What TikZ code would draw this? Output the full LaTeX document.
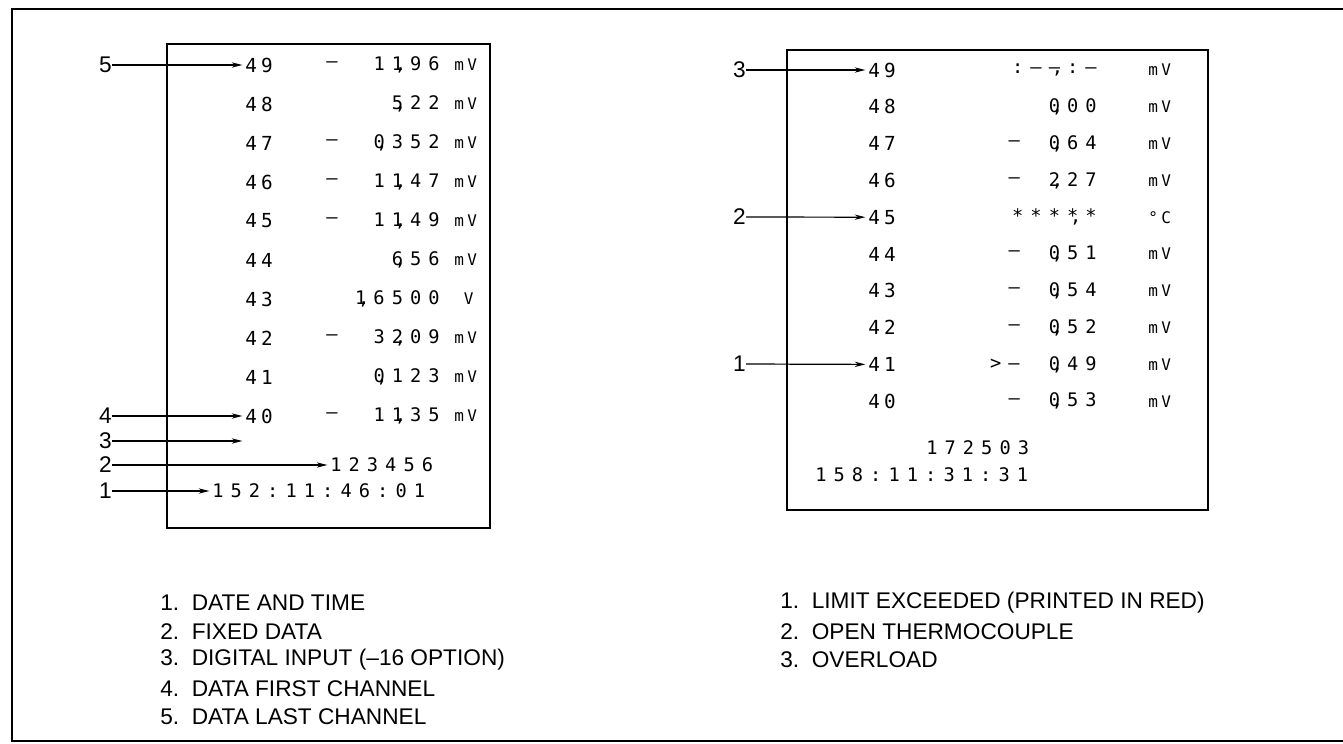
\documentclass[tikz,border=0pt]{standalone}
\usepackage{fontspec}
\setmainfont{Liberation Sans}
\newfontfamily\prtfont[LetterSpace=38]{DejaVu Sans Mono}
\newfontfamily\chfont[LetterSpace=22]{DejaVu Sans Mono}
\newcommand\dcomma{\makebox[0pt]{\kern-4pt,}\kern.38em}
\usetikzlibrary{arrows.meta}
\begin{document}
\begin{tikzpicture}[x=0.75pt,y=-0.75pt,
	arrow/.style={-{Stealth[length=8pt,width=4pt]},line width=0.9pt,shorten >=2pt},
	lbl/.style={font=\fontsize{17}{17}\selectfont,inner sep=0pt,anchor=east},
	leg/.style={font=\fontsize{17}{17}\selectfont,inner sep=0pt,anchor=west},
	chan/.style={font=\chfont\fontsize{14.5}{14.5}\selectfont,inner sep=0pt,anchor=west},
	sgn/.style={font=\prtfont\fontsize{14}{14}\selectfont,inner sep=0pt,anchor=east},
	val/.style={font=\prtfont\fontsize{14}{14}\selectfont,inner sep=0pt,anchor=east},
	unit/.style={font=\chfont\fontsize{12}{12}\selectfont,inner sep=0pt,anchor=west},
	prt/.style={font=\prtfont\fontsize{14}{14}\selectfont,inner sep=0pt,anchor=west}]
	\useasboundingbox (0,0) rectangle (1343,743);
	\draw[line width=1.1pt] (1343,9)--(12,9)--(12,741)--(1343,741);
	\draw[line width=1.5pt] (167,44) rectangle (490,528) (787,50) rectangle (1208,510);
	% left printout
	\foreach \kenh/\dau/\giatri/\donvi [count=\i from 0] in {49/–/11\dcomma96/mV,48//5\dcomma22/mV,47/–/0\dcomma352/mV,46/–/11\dcomma47/mV,45/–/11\dcomma49/mV,44//6\dcomma56/mV,43//1\dcomma6500/\phantom{m}V,42/–/32\dcomma09/mV,41//0\dcomma123/mV,40/–/11\dcomma35/mV}{
		\node[chan] (L\kenh) at (245,{65+39*\i}) {\kenh};
		\node[sgn] (Ls\kenh) at (338,{65+39*\i}) {\dau};
		\node[val] (Lv\kenh) at (440,{65+39*\i}) {\giatri};
		\node[unit] (Lu\kenh) at (454,{65+39*\i}) {\donvi};
	}
	\node[prt] (fixL) at (330,465) {123456};
	\node[prt] (dtL) at (212,491) {152:11:46:01};
	\coordinate (dinL) at (245,441);
	\foreach \nhan/\vtri in {5/65,4/416,3/441,2/465,1/491}
	\node[lbl] (nL\nhan) at (112,\vtri) {\nhan};
	\draw[arrow] (nL5.east)--(L49.west);
	\draw[arrow] (nL4.east)--(L40.west);
	\draw[arrow] (nL3.east)--(dinL);
	\draw[arrow] (nL2.east)--(fixL.west);
	\draw[arrow] (nL1.east)--(dtL.west);
	% right printout
	\foreach \kenh/\dau/\giatri/\donvi [count=\i from 0] in {49//:––\dcomma:–/mV,48//0\dcomma00/mV,47/–/0\dcomma64/mV,46/–/2\dcomma27/mV,45//****\dcomma*/°C,44/–/0\dcomma51/mV,43/–/0\dcomma54/mV,42/–/0\dcomma52/mV,41/>–/0\dcomma49/mV,40/–/0\dcomma53/mV}{
		\node[chan] (R\kenh) at (868,{70+36.8*\i}) {\kenh};
		\node[sgn] (Rs\kenh) at (1020,{70+36.8*\i}) {\dau};
		\node[val] (Rv\kenh) at (1097,{70+36.8*\i}) {\giatri};
		\node[unit] (Ru\kenh) at (1148,{70+36.8*\i}) {\donvi};
	}
	\node[prt] (fixR) at (926,448) {172503};
	\node[prt] (dtR) at (815,475) {158:11:31:31};
	\foreach \nhan/\vtri in {3/70,2/217,1/364}
	\node[lbl] (nR\nhan) at (746,\vtri) {\nhan};
	\draw[arrow] (nR3.east)--(R49.west);
	\draw[arrow] (nR2.east)--(R45.west);
	\draw[arrow] (nR1.east)--(R41.west);
	% legends
	\foreach \nhan [count=\i from 0] in {1.\ \ DATE AND TIME,2.\ \ FIXED DATA,3.\ \ DIGITAL INPUT (--16 OPTION),4.\ \ DATA FIRST CHANNEL,5.\ \ DATA LAST CHANNEL}
	\node[leg] (legL\i) at (160,{603+28.5*\i}) {\nhan};
	\foreach \nhan [count=\i from 0] in {1.\ \ LIMIT EXCEEDED (PRINTED IN RED),2.\ \ OPEN THERMOCOUPLE,3.\ \ OVERLOAD}
	\node[leg] (legR\i) at (780,{603+28.5*\i}) {\nhan};
\end{tikzpicture}
\end{document}
